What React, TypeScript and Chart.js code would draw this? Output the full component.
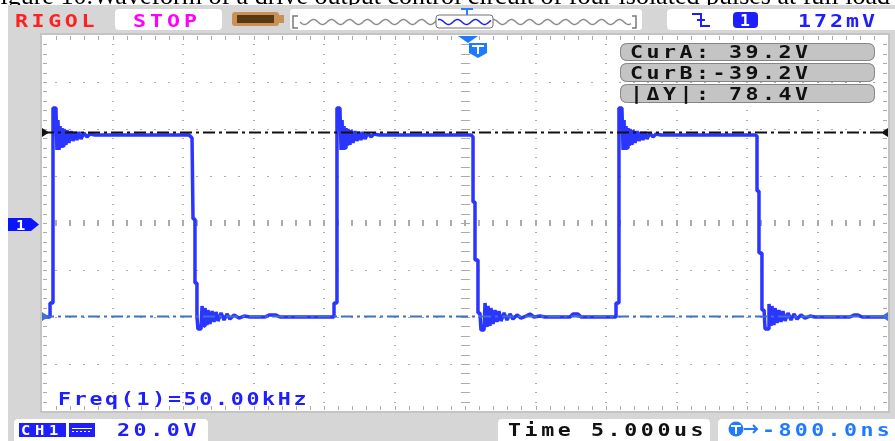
import React, { useEffect, useRef } from "react";
import { Chart, registerables } from "chart.js";

Chart.register(...registerables);

// Horizontal: 12 divisions x 5.000 us, vertical: 8 divisions x 20.0 V
const timeMinUs = -30;
const timeMaxUs = 30;
const voltMin = -79.36;
const voltMax = 80.64;

// CH1 waveform, [time in us, volts]
const pulse1: [number, number][] = [
  [-29.93, -39.36], [-29.43, -39.36], [-29.43, -33.4], [-29.22, -33.4], [-29.22, 49.57], [-29.01, 49.57],
  [-28.94, 31.7], [-28.87, 44.47], [-28.79, 31.7], [-28.72, 41.91], [-28.65, 32.55], [-28.58, 41.06],
  [-28.51, 33.4], [-28.44, 40.64], [-28.3, 33.83], [-28.23, 40.21], [-28.09, 34.68], [-27.94, 39.79],
  [-27.8, 35.53], [-27.66, 39.36], [-27.52, 35.96], [-27.38, 39.36], [-27.23, 36.38], [-27.02, 38.94],
  [-26.81, 37.23], [-26.6, 38.51], [-26.24, 38.09], [-19.57, 38.09], [-19.36, 36.81], [-19.29, 2.34],
  [-19.15, 2.34], [-19.15, -24.89], [-19.01, -24.89], [-19.01, -39.36], [-18.94, -44.47], [-18.72, -44.47],
  [-18.65, -34.68], [-18.51, -43.19], [-18.44, -35.53], [-18.3, -42.77], [-18.23, -36.38], [-18.09, -42.34],
  [-17.94, -36.81], [-17.8, -41.49], [-17.66, -37.23], [-17.52, -41.06], [-17.3, -37.66], [-17.09, -40.64],
  [-16.88, -38.09], [-16.67, -40.21], [-16.38, -38.51], [-16.03, -39.79], [-15.67, -38.94], [-15.25, -39.36],
  [-14.18, -39.36], [-13.9, -38.51], [-13.4, -38.51], [-13.12, -39.36], [-9.36, -39.36],
];
const pulse2: [number, number][] = [
  [-9.29, -39.36], [-9.29, -33.4], [-9.08, -33.4], [-9.08, 49.57], [-8.87, 49.57], [-8.79, 31.7],
  [-8.72, 44.47], [-8.65, 31.7], [-8.58, 41.91], [-8.51, 32.55], [-8.44, 41.06], [-8.37, 33.4],
  [-8.3, 40.64], [-8.16, 33.83], [-8.09, 40.21], [-7.94, 34.68], [-7.8, 39.79], [-7.66, 35.53],
  [-7.52, 39.36], [-7.38, 35.96], [-7.23, 39.36], [-7.09, 36.38], [-6.88, 38.94], [-6.67, 37.23],
  [-6.45, 38.51], [-6.1, 38.09], [0.43, 38.09], [0.57, 37.23], [0.57, 9.57], [0.71, 9.57],
  [0.71, -15.11], [0.92, -15.11], [0.92, -37.66], [1.06, -37.66], [1.13, -44.89], [1.35, -44.89],
  [1.42, -33.4], [1.56, -43.62], [1.63, -34.68], [1.77, -43.19], [1.84, -35.53], [1.99, -42.34],
  [2.13, -36.38], [2.27, -41.49], [2.41, -36.81], [2.55, -41.06], [2.77, -37.66], [2.98, -40.64],
  [3.19, -38.09], [3.4, -40.21], [3.69, -38.51], [3.97, -39.79], [4.33, -38.94], [4.61, -38.09],
  [4.89, -39.36], [5.32, -38.94], [5.67, -39.36], [7.45, -39.36], [7.66, -38.09], [8.01, -38.09],
  [8.23, -39.36], [10.71, -39.36],
];
const pulse3: [number, number][] = [
  [10.71, -33.4], [10.92, -33.4], [10.92, 49.57], [11.13, 49.57], [11.21, 31.7], [11.28, 44.47],
  [11.35, 31.7], [11.42, 41.91], [11.49, 32.55], [11.56, 41.06], [11.63, 33.4], [11.7, 40.64],
  [11.84, 33.83], [11.91, 40.21], [12.06, 34.68], [12.2, 39.79], [12.34, 35.53], [12.48, 39.36],
  [12.62, 35.96], [12.77, 39.36], [12.91, 36.38], [13.12, 38.94], [13.33, 37.23], [13.55, 38.51],
  [13.9, 38.09], [20.57, 38.09], [20.71, 37.66], [20.71, 14.26], [20.85, 14.26], [20.85, -12.13],
  [21.06, -12.13], [21.06, -36.38], [21.21, -36.38], [21.28, -44.47], [21.49, -44.47], [21.56, -33.83],
  [21.7, -43.19], [21.77, -34.68], [21.91, -42.77], [21.99, -35.53], [22.13, -41.91], [22.27, -36.38],
  [22.41, -41.49], [22.55, -36.81], [22.7, -41.06], [22.91, -37.66], [23.12, -40.64], [23.33, -38.09],
  [23.55, -40.21], [23.83, -38.51], [24.11, -39.79], [24.47, -38.94], [24.82, -39.36], [27.3, -39.36],
  [27.59, -38.51], [27.87, -38.51], [28.16, -39.36], [30.0, -39.36],
];

// Cursors (volts)
const cursorA = 39.2;
const cursorB = -39.2;

// Texts
const captionText = "Figure 10.Waveform of a drive output control circuit of four isolated pulses at full load";
const brandText = "RIGOL";
const runText = "STOP";
const trigLevelText = "172mV";
const freqText = "Freq(1)=50.00kHz";
const cursorTexts = ["CurA: 39.2V", "CurB:-39.2V", "|\u0394Y|: 78.4V"];
const ch1ScaleText = "20.0V";
const timebaseText = "Time 5.000us";
const offsetText = "-800.0ns";

const GRAY = "#d6d6d6";
const BLUE = "#1e1eff";
const TRACE = "#2a35ff";
const CURB = "#3f6fcf";

function rr(ctx: CanvasRenderingContext2D, x: number, y: number, w: number, h: number, r: number) {
  ctx.beginPath();
  ctx.moveTo(x + r, y);
  ctx.lineTo(x + w - r, y);
  ctx.quadraticCurveTo(x + w, y, x + w, y + r);
  ctx.lineTo(x + w, y + h - r);
  ctx.quadraticCurveTo(x + w, y + h, x + w - r, y + h);
  ctx.lineTo(x + r, y + h);
  ctx.quadraticCurveTo(x, y + h, x, y + h - r);
  ctx.lineTo(x, y + r);
  ctx.quadraticCurveTo(x, y, x + r, y);
  ctx.closePath();
}

function mono(ctx: CanvasRenderingContext2D, text: string, x: number, base: number, pitch: number, color: string, size = 18, sx = 1.2) {
  ctx.save();
  ctx.font = `bold ${size}px "DejaVu Sans Mono"`;
  ctx.fillStyle = color;
  ctx.textBaseline = "alphabetic";
  ctx.textAlign = "left";
  const chars = Array.from(text);
  for (let i = 0; i < chars.length; i++) {
    ctx.save();
    ctx.translate(x + i * pitch, base);
    ctx.scale(sx, 1);
    ctx.fillText(chars[i], 0, 0);
    ctx.restore();
  }
  ctx.restore();
}

function drawFrame(chart: Chart) {
  const ctx = chart.ctx;
  const a = chart.chartArea;
  ctx.save();
  ctx.fillStyle = "#ffffff";
  ctx.fillRect(0, 0, 895, 441);
  ctx.font = '26px "Liberation Serif"';
  ctx.fillStyle = "#000";
  ctx.textBaseline = "alphabetic";
  ctx.fillText(captionText, -14, 4);
  ctx.fillStyle = GRAY;
  ctx.fillRect(8, 5, 887, 436);

  // header boxes
  ctx.fillStyle = "#fff";
  rr(ctx, 115, 9, 107, 21, 4); ctx.fill();
  rr(ctx, 290, 9, 352, 21, 3); ctx.fill();
  rr(ctx, 667, 9, 240, 21, 4); ctx.fill();
  // bottom boxes
  rr(ctx, 14, 419, 194, 30, 4); ctx.fill();
  rr(ctx, 498, 419, 212, 30, 4); ctx.fill();
  rr(ctx, 718, 419, 190, 30, 4); ctx.fill();

  // plot area
  ctx.fillStyle = "#fff";
  ctx.fillRect(a.left, a.top, a.right - a.left, a.bottom - a.top);
  ctx.strokeStyle = "#c4c4c4";
  ctx.lineWidth = 2;
  ctx.strokeRect(a.left - 1, a.top - 1, a.right - a.left + 2, a.bottom - a.top + 2);
  ctx.restore();
}

function drawGrid(chart: Chart) {
  const ctx = chart.ctx;
  const { left: L, top: T, right: R, bottom: B } = chart.chartArea;
  const dx = (R - L) / 12;
  const dy = (B - T) / 8;
  ctx.save();
  ctx.fillStyle = "#ababab";
  for (let k = 1; k < 12; k++) {
    if (k === 6) continue;
    const x = Math.round(L + k * dx);
    for (let j = 1; j < 40; j++) ctx.fillRect(x - 1, Math.round(T + (j * dy) / 5), 2, 1);
  }
  for (let k = 1; k < 8; k++) {
    if (k === 4) continue;
    const y = Math.round(T + k * dy);
    for (let j = 1; j < 60; j++) ctx.fillRect(Math.round(L + (j * dx) / 5) - 1, y, 2, 1);
  }
  const cx = Math.round(L + 6 * dx);
  const cy = Math.round(T + 4 * dy);
  for (let j = 1; j < 40; j++) ctx.fillRect(cx - 4, Math.round(T + (j * dy) / 5), 9, 1);
  for (let j = 1; j < 60; j++) ctx.fillRect(Math.round(L + (j * dx) / 5) - 1, cy - 3, 2, 6);
  for (let j = 1; j < 40; j++) {
    const y = Math.round(T + (j * dy) / 5);
    ctx.fillRect(L + 1, y, 4, 1);
    ctx.fillRect(R - 5, y, 4, 1);
  }
  for (let j = 1; j < 60; j++) {
    const x = Math.round(L + (j * dx) / 5);
    ctx.fillRect(x, T + 1, 1, 4);
    ctx.fillRect(x, B - 5, 1, 4);
  }
  ctx.restore();
}

function drawOverlay(chart: Chart) {
  const ctx = chart.ctx;
  const a = chart.chartArea;
  const ys = chart.scales.y;
  ctx.save();

  // header
  mono(ctx, brandText, 15, 27, 16.6, "#ff2020");
  mono(ctx, runText, 133, 27, 17, "#ff00ff");
  // memory icon
  ctx.fillStyle = "#c89256";
  rr(ctx, 232, 12, 47, 14, 3); ctx.fill();
  ctx.fillRect(278, 15, 6, 8);
  ctx.fillStyle = "#5a3812";
  ctx.fillRect(237, 15, 37, 8);
  // memory bar
  ctx.strokeStyle = "#7a7a7a";
  ctx.lineWidth = 1.5;
  ctx.beginPath();
  ctx.moveTo(298, 16); ctx.lineTo(293, 16); ctx.lineTo(293, 28); ctx.lineTo(298, 28);
  ctx.moveTo(632, 16); ctx.lineTo(636, 16); ctx.lineTo(636, 28); ctx.lineTo(632, 28);
  ctx.stroke();
  ctx.strokeStyle = "#8c8c8c";
  ctx.beginPath();
  for (let x = 300; x <= 631; x++) {
    const y = 22 + 2.5 * Math.sin(((x - 300) / 18) * 2 * Math.PI);
    if (x === 300) ctx.moveTo(x, y); else ctx.lineTo(x, y);
  }
  ctx.stroke();
  ctx.fillStyle = "#fff";
  rr(ctx, 436, 15, 57, 13, 3); ctx.fill();
  ctx.strokeStyle = BLUE;
  ctx.beginPath();
  for (let x = 438; x <= 491; x++) {
    const y = 22 + 2.5 * Math.sin(((x - 300) / 18) * 2 * Math.PI);
    if (x === 438) ctx.moveTo(x, y); else ctx.lineTo(x, y);
  }
  ctx.stroke();
  ctx.strokeStyle = "#707070";
  ctx.lineWidth = 1;
  rr(ctx, 436, 15, 57, 13, 3); ctx.stroke();
  ctx.fillStyle = "#2a7dff";
  ctx.fillRect(461, 8, 12, 2);
  ctx.fillRect(466, 8, 2, 7);
  // trigger info
  ctx.strokeStyle = BLUE;
  ctx.lineWidth = 2;
  ctx.beginPath();
  ctx.moveTo(692, 14); ctx.lineTo(701, 14); ctx.lineTo(701, 26); ctx.lineTo(710, 26);
  ctx.moveTo(697, 20); ctx.lineTo(705, 20);
  ctx.stroke();
  ctx.fillStyle = BLUE;
  rr(ctx, 733, 12, 25, 16, 4); ctx.fill();
  mono(ctx, "1", 740, 26, 10, "#fff", 15, 1.1);
  mono(ctx, trigLevelText, 798, 27, 16, BLUE);

  // trigger position marker
  ctx.fillStyle = "#1e7bff";
  ctx.beginPath();
  ctx.moveTo(458, 36); ctx.lineTo(478, 36); ctx.lineTo(468, 43); ctx.closePath(); ctx.fill();
  ctx.beginPath();
  ctx.moveTo(469, 43); ctx.lineTo(487, 43); ctx.lineTo(487, 53); ctx.lineTo(478, 58); ctx.lineTo(469, 53); ctx.closePath(); ctx.fill();
  ctx.fillStyle = "#fff";
  ctx.fillRect(472, 45, 12, 2);
  ctx.fillRect(477, 45, 2, 9);

  // cursor readout boxes
  const rows = [[43, 18, 58], [63, 19, 79], [84, 19, 100]];
  rows.forEach(([y, h, base], i) => {
    ctx.fillStyle = "#c4c4c4";
    rr(ctx, 620, y, 255, h, 7); ctx.fill();
    ctx.strokeStyle = "#858585";
    ctx.lineWidth = 1;
    rr(ctx, 620.5, y + 0.5, 254, h - 1, 7); ctx.stroke();
    mono(ctx, cursorTexts[i], 630, base, 16.5, "#111");
  });

  // channel marker
  const zy = ys.getPixelForValue(0);
  ctx.fillStyle = "#0a14ff";
  ctx.beginPath();
  ctx.moveTo(8, zy - 6.5); ctx.lineTo(31, zy - 6.5); ctx.lineTo(39, zy); ctx.lineTo(31, zy + 6.5); ctx.lineTo(8, zy + 6.5);
  ctx.closePath(); ctx.fill();
  mono(ctx, "1", 16, zy + 5, 10, "#fff", 14, 1.1);

  // cursor end markers
  const ya = ys.getPixelForValue(cursorA);
  const yb = ys.getPixelForValue(cursorB);
  const tri = (x0: number, x1: number, y: number, c: string) => {
    ctx.fillStyle = c;
    ctx.beginPath();
    ctx.moveTo(x0, y - 4.5); ctx.lineTo(x0, y + 4.5); ctx.lineTo(x1, y); ctx.closePath(); ctx.fill();
  };
  tri(a.left, a.left + 7, ya, "#111");
  tri(a.right, a.right - 7, ya, "#111");
  tri(a.left, a.left + 7, yb, CURB);
  tri(a.right, a.right - 7, yb, CURB);

  // frequency readout
  mono(ctx, freqText, 58, 405, 15.7, BLUE);

  // bottom bar
  ctx.fillStyle = BLUE;
  ctx.fillRect(19, 423, 47, 14);
  ctx.fillRect(69, 423, 26, 14);
  mono(ctx, "CH1", 21, 435, 14, "#fff", 14, 1.1);
  ctx.fillStyle = "#fff";
  ctx.fillRect(72, 428, 20, 1);
  for (let x = 72; x < 92; x += 4) ctx.fillRect(x, 431, 2, 1);
  mono(ctx, ch1ScaleText, 117, 436, 16.6, BLUE);
  mono(ctx, timebaseText, 508, 436, 16.6, "#111");
  ctx.fillStyle = "#1e7bff";
  ctx.beginPath(); ctx.arc(736, 429, 7.5, 0, Math.PI * 2); ctx.fill();
  ctx.fillStyle = "#fff";
  ctx.fillRect(731, 425, 10, 2);
  ctx.fillRect(735, 425, 2, 9);
  ctx.strokeStyle = "#1e7bff";
  ctx.lineWidth = 2;
  ctx.beginPath();
  ctx.moveTo(744, 429); ctx.lineTo(757, 429);
  ctx.moveTo(753, 425); ctx.lineTo(757, 429); ctx.lineTo(753, 433);
  ctx.stroke();
  mono(ctx, offsetText, 762, 436, 16.4, "#1e7bff");

  ctx.restore();
}

const scopePlugin = {
  id: "scopeScreen",
  beforeDraw(chart: Chart) { drawFrame(chart); },
  beforeDatasetsDraw(chart: Chart) { drawGrid(chart); },
  afterDraw(chart: Chart) { drawOverlay(chart); },
};

export default function App() {
  const ref = useRef<HTMLCanvasElement | null>(null);
  useEffect(() => {
    if (!ref.current) return;
    const trace = [...pulse1, ...pulse2, ...pulse3].map(([x, y]) => ({ x, y }));
    const chart = new Chart(ref.current, {
      type: "line",
      data: {
        datasets: [
          {
            label: "CurA",
            data: [{ x: timeMinUs, y: cursorA }, { x: timeMaxUs, y: cursorA }],
            borderColor: "#111",
            borderWidth: 2,
            borderDash: [12, 4, 3, 4],
            pointRadius: 0,
            order: 0,
          },
          {
            label: "CurB",
            data: [{ x: timeMinUs, y: cursorB }, { x: timeMaxUs, y: cursorB }],
            borderColor: CURB,
            borderWidth: 2,
            borderDash: [12, 4, 3, 4],
            pointRadius: 0,
            order: 0,
          },
          {
            label: "CH1",
            data: trace,
            borderColor: TRACE,
            borderWidth: 3.5,
            borderJoinStyle: "bevel",
            pointRadius: 0,
            tension: 0,
            order: 1,
          },
        ],
      },
      options: {
        animation: false,
        responsive: false,
        events: [],
        layout: { padding: { left: 42, top: 35, right: 7, bottom: 30 } },
        plugins: { legend: { display: false }, tooltip: { enabled: false } },
        scales: {
          x: { type: "linear", min: timeMinUs, max: timeMaxUs, display: false },
          y: { type: "linear", min: voltMin, max: voltMax, display: false },
        },
      },
      plugins: [scopePlugin],
    });
    return () => chart.destroy();
  }, []);
  return (
    <div style={{ position: "fixed", left: 0, top: 0, width: 895, height: 441, overflow: "hidden" }}>
      <canvas ref={ref} width={895} height={441} style={{ width: 895, height: 441, display: "block" }} />
    </div>
  );
}
